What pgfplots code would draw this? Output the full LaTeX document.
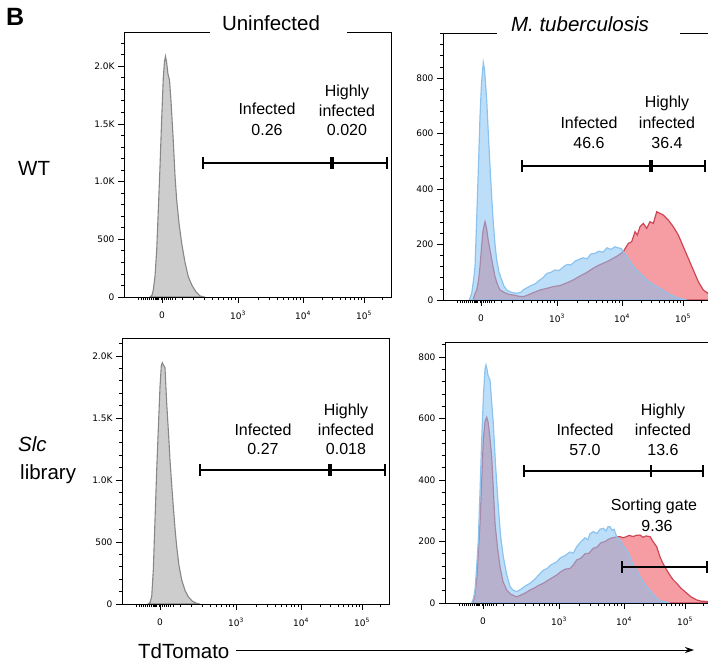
\documentclass[border=0pt]{standalone}
\usepackage{pgfplots}
\pgfplotsset{compat=1.18}
\usepackage{fontspec}
\setmainfont{Liberation Sans}
\newfontfamily\tickfont{DejaVu Sans}
\usetikzlibrary{arrows.meta}
\definecolor{grayfill}{RGB}{205,205,205}
\definecolor{grayline}{RGB}{135,135,135}
\definecolor{bluefill}{RGB}{135,195,242}
\definecolor{blueline}{RGB}{140,195,238}
\definecolor{redfill}{RGB}{235,60,70}
\definecolor{redline}{RGB}{205,70,85}
\newcommand\bigf{\fontsize{20.5}{24}\selectfont}
\newcommand\gatef{\fontsize{16}{19}\selectfont}
\pgfplotsset{
 flow/.style={scale only axis, anchor=south west, width=267pt, xmin=0, xmax=267, ymin=0,
  axis on top, axis line style={black, line width=0.8pt},
  tick align=outside, tick pos=left,
  major tick length=6pt, minor tick length=3pt,
  every tick/.style={black, line width=0.7pt},
  xtick={38,114,179,240},
  xticklabels={0,10\textsuperscript{3},10\textsuperscript{4},10\textsuperscript{5}},
  minor xtick={14,17,19,21,23,25,27,29,31,31.7,32.4,33.1,33.8,34.5,37,40,42,44,46,48,51,58,69,80,88,94.4,99.6,104,107.7,111,134,145,153,159,164.6,169,172.7,176,198,208,216,221.6,226.5,230.5,234,237,258},
  /pgf/number format/assume math mode=true,
  tick label style={font=\tickfont\fontsize{9}{10}\selectfont},
  xticklabel style={yshift=-5pt},
 },
 flowL/.style={flow, ytick={0,500,1000,1500,2000}, yticklabels={0,500,1.0K,1.5K,2.0K}, minor ytick={100,200,...,2200}},
 flowR/.style={flow, ytick={0,200,400,600,800}, yticklabels={0,200,400,600,800}, minor ytick={40,80,...,960}},
 gate/.style={black, line width=1.6pt, mark=|, mark size=6pt, mark options={line width=1.6pt}},
 grayh/.style={fill=grayfill, draw=grayline, line width=1.1pt},
 redh/.style={fill=redfill, fill opacity=0.5, draw=redline, line width=1.2pt},
 blueh/.style={fill=bluefill, fill opacity=0.55, draw=blueline, line width=1.2pt},
}
\begin{document}
\begin{tikzpicture}[x=1pt,y=1pt]
\useasboundingbox (0pt,0pt) rectangle (708pt,662pt);
% ---------------- top left
\begin{axis}[flowL, at={(124pt,365pt)}, height=265pt, ymax=2296]
\addplot[grayh] coordinates {(26,0)(28,15)(29.3,61)(31,180)(32.7,407)(34.3,750)(36,1129)(37.7,1550)(39.3,1900)(40.5,2040)(41.5,2085)(42.5,2040)(44,1930)(45.5,1880)(47,1700)(49.3,1350)(51,1050)(52.7,840)(55,640)(57.7,465)(61,300)(64.3,176)(68,100)(72,45)(76,9)(80,0)} \closedcycle;
\addplot[gate] coordinates {(79,1161)(207,1161)};
\addplot[gate] coordinates {(209,1161)(263,1161)};
\end{axis}
% ---------------- bottom left
\begin{axis}[flowL, at={(122pt,58pt)}, height=266pt, ymax=2145]
\addplot[grayh] coordinates {(26,0)(28,12)(29.7,59)(31.3,274)(33,677)(34.7,1080)(36.5,1450)(38,1752)(39.3,1920)(40.3,1946)(41.5,1925)(43,1906)(44.7,1618)(46.5,1380)(48,1161)(49.7,960)(51.3,785)(53,610)(54.7,462)(57,310)(59.7,194)(63,110)(66.3,59)(70,25)(74.7,5)(78,0)} \closedcycle;
\addplot[gate] coordinates {(78,1080)(207,1080)};
\addplot[gate] coordinates {(209,1080)(263,1080)};
\end{axis}
% ---------------- top right
\begin{axis}[flowR, at={(443pt,362pt)}, height=267pt, ymax=962]
\addplot[redh] coordinates {(30,0)(31.7,20)(33.7,36)(35.5,70)(37,120)(38.5,190)(40,250)(42,282)(43.5,260)(45,220)(47,180)(49.5,130)(52,84)(54.5,55)(57,36)(62,26)(66,20)(70.3,18)(75,14)(80.3,12)(85,18)(90,26)(97,36)(104,42)(110,48)(117,52)(124,62)(130,72)(134,80)(140,92)(145,102)(150,114)(155,124)(160,132)(165,140)(170,150)(175,160)(180.3,174)(185.3,204)(188.7,210)(192,246)(194.3,234)(197,264)(200.3,276)(203.7,258)(207,282)(210.3,276)(213.7,318)(217,312)(220.3,306)(225.3,288)(230.3,264)(235.3,234)(240.3,192)(245.3,150)(250.3,108)(255.3,66)(260.3,36)(265,24)(268,20)} \closedcycle;
\addplot[blueh] coordinates {(26.3,0)(28.7,24)(30.5,70)(32,120)(33.2,240)(34.3,360)(35.7,510)(37,660)(38.5,780)(40.3,855)(41.5,830)(42.5,780)(43.7,720)(45.3,600)(47,480)(48.7,370)(50.3,276)(52,200)(53.7,144)(56,100)(58.7,72)(61,50)(63.7,36)(68,28)(73.7,24)(78,28)(80,36)(84,44)(88,52)(92,58)(96,70)(100,80)(104,96)(108,100)(112,108)(116,106)(120,118)(124,128)(128,126)(132,140)(136,146)(140,152)(144,148)(148,166)(152,168)(156,176)(160,172)(164,188)(168,182)(172,192)(175,188)(178,186)(181,170)(184,156)(187,140)(190,122)(194,106)(197,96)(200,86)(204,72)(208,60)(212,52)(216,44)(220,34)(224,26)(228,18)(232,12)(236,6)(240,2)(244,0)} \closedcycle;
\addplot[gate] coordinates {(79,483)(207,483)};
\addplot[gate] coordinates {(209,483)(262,483)};
\end{axis}
% ---------------- bottom right
\begin{axis}[flowR, at={(445pt,59pt)}, height=261pt, ymax=849]
\addplot[redh] coordinates {(28,0)(29.5,20)(31.7,75)(33.3,160)(35,259)(36.7,400)(38.3,530)(40,590)(41.7,604)(43,590)(44.5,550)(46.7,476)(48.3,370)(50,259)(52.5,180)(55,118)(58,70)(61.7,42)(66,28)(71.7,20)(76,26)(80,32)(85,42)(90,50)(94,58)(98.3,64)(104,76)(111.7,91)(115,100)(120,110)(125,112)(128.3,124)(131.7,140)(136,146)(140,160)(144,162)(148.3,178)(152,182)(156,196)(160,200)(165,210)(170,214)(175,216)(178,212)(181.7,216)(184,220)(188.3,216)(191,220)(195,221)(198,214)(201,218)(205,216)(208,200)(211.7,183)(215,150)(218,128)(221.7,107)(225,90)(228,76)(231.7,64)(236,48)(241.7,32)(246,20)(251.7,10)(256,6)(261.7,5)(268,3)} \closedcycle;
\addplot[blueh] coordinates {(26.7,0)(28.5,15)(30,42)(31.5,110)(33.3,205)(35,360)(36.7,530)(38.5,680)(40,760)(41,774)(42,760)(43,740)(45,725)(46.5,660)(48.3,584)(50.5,450)(53.3,313)(55.5,220)(58.3,150)(61.5,95)(65,53)(68,42)(71.7,37)(76,45)(80,55)(85,64)(90,78)(94,92)(98.3,107)(102,112)(106,124)(111.7,134)(115,146)(120,154)(125,166)(128.3,162)(131.7,183)(135,196)(140,212)(143,206)(145,225)(148.3,232)(152,226)(155,240)(158.3,243)(161,234)(163,248)(165,248)(167,236)(169,240)(171.7,216)(175,205)(178,188)(181.7,172)(185,148)(188,125)(191.7,107)(195,85)(198,70)(201,55)(205,40)(211,18)(215,8)(220,3)(225,0)} \closedcycle;
\addplot[gate] coordinates {(79,429)(206,429)(258,429)};
\addplot[gate] coordinates {(177,117)(262,117)};
\end{axis}
% ---------------- titles (mask the frame line)
\fill[white] (210pt,626pt) rectangle (347pt,634pt);
\node[anchor=base, font=\bigf] at (271pt,631pt) {Uninfected};
\fill[white] (497pt,625pt) rectangle (680pt,633pt);
\node[anchor=base, font=\bigf\itshape] at (580pt,630pt) {M. tuberculosis};
% ---------------- gate labels
\begin{scope}[every node/.style={anchor=base, font=\gatef}]
\node at (267pt,547pt) {Infected}; \node at (267pt,526.5pt) {0.26};
\node at (347pt,565pt) {Highly}; \node at (347pt,545.5pt) {infected}; \node at (347pt,526pt) {0.020};
\node at (263pt,227pt) {Infected}; \node at (263pt,207.3pt) {0.27};
\node at (346pt,247pt) {Highly}; \node at (346pt,227pt) {infected}; \node at (346pt,207.3pt) {0.018};
\node at (589pt,533.7pt) {Infected}; \node at (589pt,513.7pt) {46.6};
\node at (667pt,554.7pt) {Highly}; \node at (667pt,533.7pt) {infected}; \node at (667pt,513.7pt) {36.4};
\node at (585pt,227pt) {Infected}; \node at (585pt,207pt) {57.0};
\node at (663pt,246.3pt) {Highly}; \node at (663pt,227pt) {infected}; \node at (663pt,207pt) {13.6};
\node at (654pt,152pt) {Sorting gate}; \node at (657pt,130.3pt) {9.36};
\end{scope}
% ---------------- row labels and panel letter
\node[anchor=base west, font=\bigf, inner sep=0pt] at (18pt,486pt) {WT};
\node[anchor=base west, font=\bigf\itshape, inner sep=0pt] at (18pt,210.3pt) {Slc};
\node[anchor=base west, font=\bigf, inner sep=0pt] at (20pt,182.7pt) {library};
\node[anchor=base west, font=\fontsize{25}{28}\selectfont\bfseries, inner sep=0pt] at (6pt,636pt) {B};
% ---------------- x axis title
\node[anchor=base west, font=\bigf, inner sep=0pt] at (138pt,4pt) {TdTomato};
\draw[line width=0.9pt, -{Stealth[length=9pt,width=6pt]}] (236pt,12pt) -- (694pt,12pt);
\end{tikzpicture}
\end{document}
